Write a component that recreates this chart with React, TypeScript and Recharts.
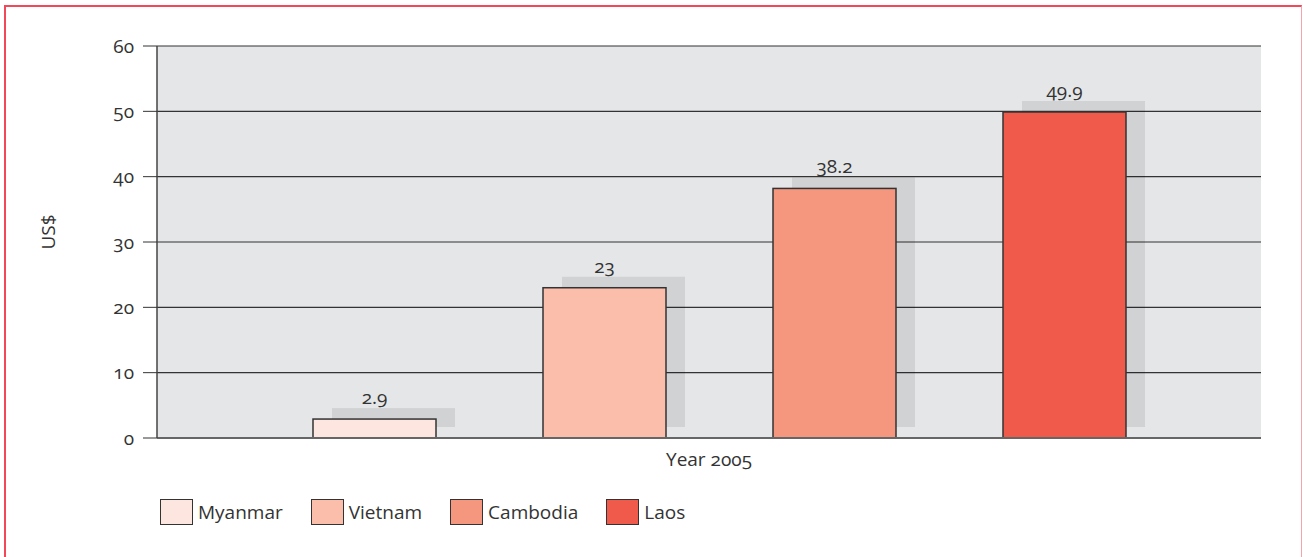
import {
  BarChart,
  Bar,
  XAxis,
  YAxis,
  CartesianGrid,
  Legend,
  LabelList,
} from "recharts";

const COUNTRIES = ["Myanmar", "Vietnam", "Cambodia", "Laos"];
const VALUES = [2.9, 23, 38.2, 49.9];
const COLORS = ["#fde6df", "#fbbeab", "#f5967e", "#f05a4a"];
const CATEGORY = "Year 2005";
const Y_TICKS = [0, 10, 20, 30, 40, 50, 60];

const row: Record<string, string | number> = { name: CATEGORY };
COUNTRIES.forEach((c, i) => {
  row[c] = VALUES[i];
});
const data = [row];

const TEXT = "#333";
const FONT_SIZE = 19;

// bar with a flat grey drop shadow offset up and to the right
function ShadowBar(props: any) {
  const { x, y, width, height, fill } = props;
  return (
    <g>
      <rect x={x + 19} y={y - 11} width={width} height={height} fill="rgba(0,0,0,0.085)" />
      <rect x={x} y={y} width={width} height={height} fill={fill} stroke="#333" strokeWidth={1.5} />
    </g>
  );
}

function renderLegend(props: any) {
  // keep the series order instead of the alphabetical default
  const items = [...(props.payload || [])].sort(
    (a: any, b: any) => COUNTRIES.indexOf(a.value) - COUNTRIES.indexOf(b.value)
  );
  return (
    <div style={{ display: "flex", alignItems: "center" }}>
      {items.map((entry: any) => (
        <div key={entry.value} style={{ display: "flex", alignItems: "center", marginRight: 28 }}>
          <span
            style={{
              display: "inline-block",
              width: 33,
              height: 26,
              boxSizing: "border-box",
              border: "1.5px solid #333",
              background: entry.color,
              marginRight: 5,
            }}
          />
          <span style={{ fontSize: FONT_SIZE, color: TEXT, lineHeight: "26px" }}>{entry.value}</span>
        </div>
      ))}
    </div>
  );
}

function YLabel({ viewBox }: any) {
  const cx = 48;
  const cy = viewBox.y + viewBox.height / 2 - 10;
  return (
    <text
      x={cx}
      y={cy}
      transform={`rotate(-90 ${cx} ${cy})`}
      textAnchor="middle"
      dominantBaseline="central"
      fill={TEXT}
      fontSize={FONT_SIZE}
    >
      US$
    </text>
  );
}

export default function App() {
  return (
    <div
      style={{
        position: "absolute",
        left: 0,
        top: 0,
        width: 1303,
        height: 557,
        overflow: "hidden",
        background: "#fff",
        fontFamily: "'Open Sans', sans-serif",
        fontVariantNumeric: "oldstyle-nums",
      }}
    >
      <div
        style={{
          position: "absolute",
          left: 4,
          top: 5,
          width: 1298,
          height: 600,
          boxSizing: "border-box",
          borderTop: "2px solid #f2485a",
          borderLeft: "2px solid #f2485a",
          borderRight: "1.5px solid #f8a3ab",
        }}
      />
      <BarChart
        width={1303}
        height={557}
        data={data}
        margin={{ top: 46, right: 42, left: 0, bottom: 79 }}
        barSize={123}
        barGap={107}
      >
        <CartesianGrid vertical={false} stroke="#333" strokeWidth={1.2} fill="#e5e6e8" fillOpacity={1} />
        <XAxis
          xAxisId="edge"
          type="number"
          domain={[0, 1]}
          ticks={[0, 1]}
          height={0}
          tickFormatter={() => ""}
          axisLine={false}
          tickSize={11}
          tickLine={{ stroke: "#555", strokeWidth: 2 }}
        />
        <XAxis
          dataKey="name"
          height={40}
          padding={{ left: 20, right: 0 }}
          tickLine={false}
          tickMargin={9}
          axisLine={{ stroke: "#666", strokeWidth: 2 }}
          tick={{ fill: TEXT, fontSize: FONT_SIZE, dx: -10 }}
        />
        <YAxis
          domain={[0, 60]}
          ticks={Y_TICKS}
          width={157}
          tickSize={14}
          tickMargin={9}
          tick={{ fill: TEXT, fontSize: FONT_SIZE }}
          tickLine={{ stroke: "#333" }}
          axisLine={{ stroke: "#444", strokeWidth: 1.5 }}
          label={<YLabel />}
        />
        <YAxis
          yAxisId="r"
          orientation="right"
          width={0}
          domain={[0, 60]}
          tick={false}
          tickLine={false}
          axisLine={{ stroke: "#666", strokeWidth: 2 }}
        />
        <Legend
          layout="horizontal"
          verticalAlign="middle"
          align="center"
          content={renderLegend}
          wrapperStyle={{ top: 499, left: 160, width: "auto" }}
        />
        {COUNTRIES.map((c, i) => (
          <Bar key={c} dataKey={c} fill={COLORS[i]} shape={ShadowBar} isAnimationActive={false}>
            <LabelList dataKey={c} position="top" offset={15} fill={TEXT} fontSize={FONT_SIZE} />
          </Bar>
        ))}
      </BarChart>
    </div>
  );
}
